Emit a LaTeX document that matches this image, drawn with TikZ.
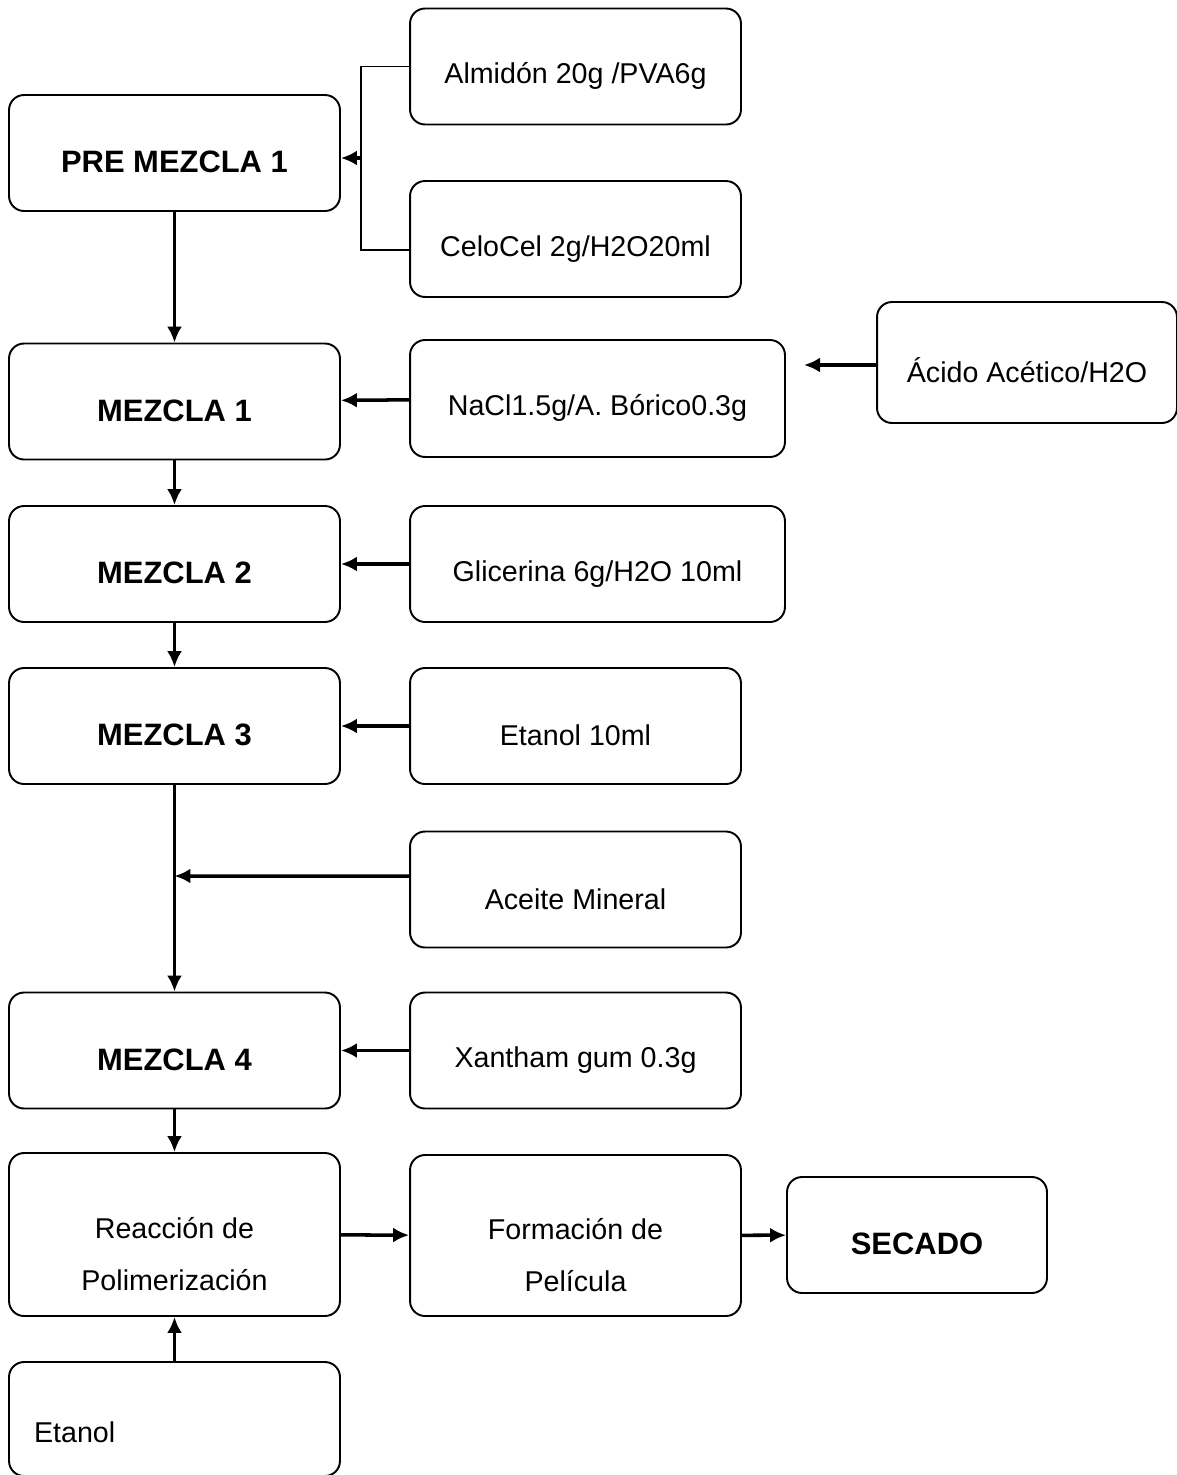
\documentclass[tikz,border=0pt]{standalone}
\usepackage{fontspec}
\setmainfont{Liberation Sans}
\usepackage{tikz}
\usetikzlibrary{arrows.meta}
\usetikzlibrary{calc}
\newcommand{\mytikzsmallfontsize}{\fontsize{16.3}{30}\selectfont}
\newcommand{\mytikzboldfontsize}{\fontsize{17.6}{30}\selectfont\bfseries}
\newcommand{\lowstrut}[1]{\rule{0pt}{#1}}
\tikzstyle{mytikzflowoptions}=[
    x=0.02cm,
    y=-0.02cm,
    every path/.append style={>={Latex[length=0.32cm,width=0.3cm]}},
    every node/.append style={draw,rectangle,rounded corners=0.3cm,line width=1.1pt,align=center,
        execute at begin node=\lowstrut{0.8cm}},
    minimum width=6.62cm,
    minimum height=2.32cm,
    inner sep=0pt,
    font=\mytikzsmallfontsize
]
\tikzstyle{stagebox}=[
    font=\mytikzboldfontsize
]
\tikzstyle{flow}=[
    ->,
    line width=2pt
]
\tikzstyle{bracket}=[
    line width=0.9pt
]

\begin{document}
\begin{tikzpicture}[mytikzflowoptions]
    \useasboundingbox (0,0) rectangle (1177,1475);

    % nodes
    \node[stagebox] (pre) at (174.5,153)   {PRE MEZCLA 1};
    \node[stagebox] (m1) at (174.5,401.5)  {MEZCLA 1};
    \node[stagebox] (m2) at (174.5,564)    {MEZCLA 2};
    \node[stagebox] (m3) at (174.5,726)    {MEZCLA 3};
    \node[stagebox] (m4) at (174.5,1050.5) {MEZCLA 4};
    \node (reac) at (174.5,1234.5) [minimum height=3.26cm] {\lowstrut{1.2cm}Reacci\'on de\\Polimerizaci\'on};
    \node (etanol) at (174.5,1419) [text width=5.62cm,inner xsep=0.5cm,align=left,minimum height=2.28cm] {\lowstrut{0.95cm}Etanol};

    \node (almidon) at (575.5,66.5)  {Almid\'on 20g /PVA6g};
    \node (celocel) at (575.5,239)   {CeloCel 2g/H2O20ml};
    \node (nacl) at (597.5,398.5) [minimum width=7.5cm,minimum height=2.34cm] {NaCl1.5g/A. B\'orico0.3g};
    \node (glic) at (597.5,564) [minimum width=7.5cm] {Glicerina 6g/H2O 10ml};
    \node (etanol10) at (575.5,726)  {Etanol 10ml};
    \node (aceite) at (575.5,889.5)  {Aceite Mineral};
    \node (xan) at (575.5,1050.5)    {Xantham gum 0.3g};
    \node (form) at (575.5,1235.5) [minimum height=3.22cm] {\lowstrut{1.2cm}Formaci\'on de\\Pel\'icula};
    \node (acido) at (1027,362.5) [minimum width=6cm,minimum height=2.42cm] {\'Acido Ac\'etico/H2O};
    \node[stagebox] (secado) at (917,1235) [minimum width=5.2cm] {SECADO};

    \coordinate (junc) at (361,158);
    \coordinate (acidoin) at (804,365);
    \coordinate (acein) at (174.5,876);

    % edges
    \draw[bracket] (almidon.west) -| (junc);
    \draw[bracket] ([yshift=-0.22cm]celocel.west) -| (junc);
    \draw[flow] (junc) -- (pre.east |- junc);
    \draw[flow] (acido.west |- acidoin) -- (acidoin);

    \draw[flow] (pre) -- (m1);
    \draw[flow] (m1) -- (m2);
    \draw[flow] (m2) -- (m3);
    \draw[flow] (m3) -- (m4);
    \draw[flow] (m4) -- (reac);
    \draw[flow] (etanol) -- (reac);

    \draw[flow] (nacl) -- (m1);
    \draw[flow] (glic) -- (m2);
    \draw[flow] (etanol10) -- (m3);
    \draw[flow] ([yshift=0.27cm]aceite.west) -- (acein);
    \draw[flow] (xan) -- (m4);
    \draw[flow] (reac) -- (form);
    \draw[flow] (form) -- (secado);
\end{tikzpicture}
\end{document}
